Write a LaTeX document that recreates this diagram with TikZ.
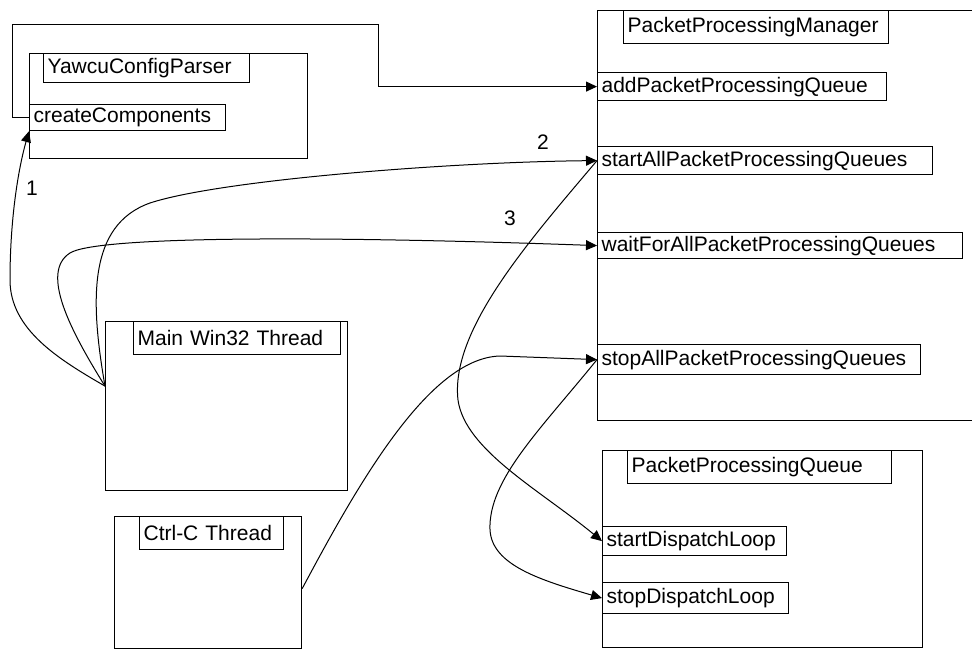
\documentclass[tikz,border=0pt]{standalone}
\usepackage{fontspec}
\setmainfont{Liberation Sans}
\usetikzlibrary{arrows.meta}
\tikzset{
  box/.style={draw=black,line width=1.2pt,anchor=north west,inner sep=0pt},
  lbl/.style={draw=black,line width=1.2pt,anchor=north west,align=left,
    inner xsep=4pt,inner ysep=0pt,font=\fontsize{21}{23}\selectfont},
  num/.style={font=\fontsize{21}{23}\selectfont,inner sep=0pt},
  call/.style={-{Triangle[length=11pt,width=10pt]},line width=1pt},
}

\begin{document}
\begin{tikzpicture}[x=1pt,y=-1pt]
  \useasboundingbox (0,0) rectangle (972,650);

  \node[box,minimum width=278pt,minimum height=105pt] (parser) at (29,53) {};
  \node[lbl,text width=198pt,minimum height=29pt] (parsert) at (43,53) {YawcuConfigParser};
  \node[lbl,text width=188pt,minimum height=26pt] (ccomp) at (29,104) {createComponents};

  \node[box,minimum width=400pt,minimum height=410pt] (mgr) at (597,10) {};
  \node[lbl,text width=257pt,minimum height=33pt] (mgrt) at (623,10) {PacketProcessingManager};
  \node[lbl,text width=281pt,minimum height=28pt] (addq) at (597,72) {addPacketProcessingQueue};
  \node[lbl,text width=327pt,minimum height=28pt] (startall) at (597,146) {startAllPacketProcessingQueues};
  \node[lbl,text width=357pt,minimum height=26pt] (waitall) at (597,232) {waitForAllPacketProcessingQueues};
  \node[lbl,text width=315pt,minimum height=30pt] (stopall) at (597,344) {stopAllPacketProcessingQueues};

  \node[box,minimum width=320pt,minimum height=197pt] (queue) at (602,450) {};
  \node[lbl,text width=256pt,minimum height=33pt] (queuet) at (627,450) {PacketProcessingQueue};
  \node[lbl,text width=176pt,minimum height=29pt] (startdl) at (602,526) {startDispatchLoop};
  \node[lbl,text width=178pt,minimum height=31pt] (stopdl) at (602,582) {stopDispatchLoop};

  \node[box,minimum width=242pt,minimum height=169pt] (mainth) at (105,321) {};
  \node[lbl,text width=199pt,minimum height=33pt] (maint) at (133,321) {Main Win32 Thread};

  \node[box,minimum width=187pt,minimum height=132pt] (ctrlth) at (114,516) {};
  \node[lbl,text width=136pt,minimum height=33pt] (ctrlt) at (139,516) {Ctrl-C Thread};

  \node[num] (n1) at (32,188) {1};
  \node[num] (n2) at (543,142) {2};
  \node[num] (n3) at (510,218) {3};

  \draw[call] (ccomp.west) -- ++(-17,0) |- (378,25) |- (addq.west);
  \draw[call] ([yshift=20pt]mainth.west) .. controls (60,360) and (10,330) .. (10,280)
    .. controls (10,220) and (18,170) .. (ccomp.south west);
  \draw[call] ([yshift=20pt]mainth.west) .. controls (90,300) and (88,225) .. (150,203)
    .. controls (220,180) and (450,162) .. (startall.west);
  \draw[call] ([yshift=20pt]mainth.west) .. controls (70,330) and (40,272) .. (70,253)
    .. controls (95,237) and (300,235) .. (waitall.west);
  \draw[call] ([yshift=-6pt]ctrlth.east) .. controls (360,480) and (430,358) .. (500,356)
    -- (stopall.west);
  \draw[call] (startall.west) .. controls (530,240) and (450,330) .. (458,400)
    .. controls (465,450) and (540,490) .. (startdl.west);
  \draw[call] (stopall.west) .. controls (540,430) and (488,480) .. (490,530)
    .. controls (492,565) and (540,580) .. (stopdl.west);
\end{tikzpicture}
\end{document}
